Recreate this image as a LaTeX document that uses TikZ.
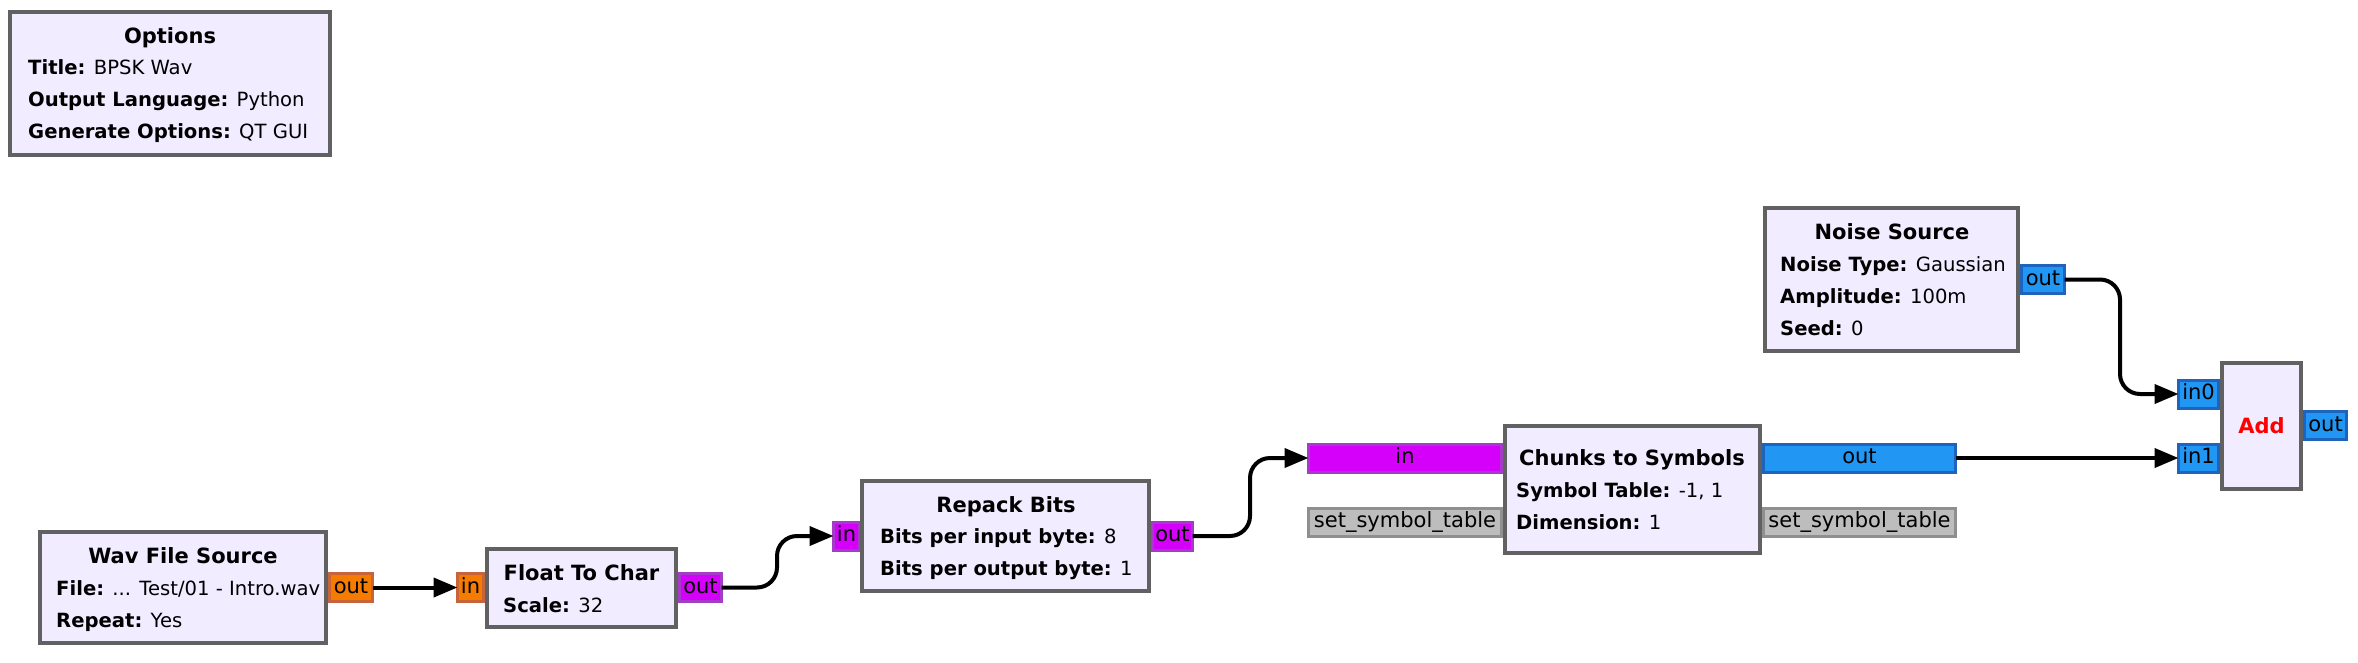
\documentclass[tikz,border=0pt]{standalone}
\usepackage{fontspec}
\setmainfont{DejaVu Sans}
\usetikzlibrary{arrows.meta}
\definecolor{blkfill}{HTML}{F1ECFF}
\definecolor{blkline}{HTML}{616161}
\definecolor{fltfill}{HTML}{F57C00}
\definecolor{fltline}{HTML}{C8643C}
\definecolor{bytfill}{HTML}{D500F9}
\definecolor{bytline}{HTML}{A43CC8}
\definecolor{cpxfill}{HTML}{2196F3}
\definecolor{cpxline}{HTML}{1E64BE}
\definecolor{msgfill}{HTML}{BDBDBD}
\definecolor{msgline}{HTML}{8F8F8F}
\definecolor{addred}{HTML}{FF0000}
\begin{document}
\begin{tikzpicture}[x=1pt,y=-1pt,
 blk/.style={draw=blkline, fill=blkfill, line width=4pt, inner sep=0pt, outer sep=0pt, anchor=north west},
 ttl/.style={font=\fontsize{21}{25}\selectfont\bfseries, inner sep=0pt, anchor=base},
 prm/.style={font=\fontsize{19.6}{23}\selectfont, inner sep=0pt, anchor=base west},
 port/.style={line width=3pt, inner sep=0pt, outer sep=0pt, minimum height=28pt, text height=15pt, text depth=4pt, font=\fontsize{21}{25}\selectfont},
 flt/.style={port, draw=fltline, fill=fltfill},
 byt/.style={port, draw=bytline, fill=bytfill},
 cpx/.style={port, draw=cpxline, fill=cpxfill},
 msg/.style={port, draw=msgline, fill=msgfill},
 conn/.style={line width=4pt, -{Triangle[length=24pt,width=19pt]}, rounded corners=20pt}
]
\fill[white] (0,0) rectangle (2358,662);
\useasboundingbox (0,0) rectangle (2358,662);

% ports
\node[flt, minimum width=43pt] (wavout) at (351,587.5) {out};
\node[flt, minimum width=26pt] (fin) at (470.5,587.5) {in};
\node[byt, minimum width=42pt] (fout) at (700.5,587.5) {out};
\node[byt, minimum width=26pt] (rin) at (846.5,536) {in};
\node[byt, minimum width=40pt] (rout) at (1172.5,536) {out};
\node[byt, minimum width=193pt] (cin) at (1405,458) {in};
\node[cpx, minimum width=192pt] (cout) at (1859.5,458) {out};
\node[msg, minimum width=193pt] (csl) at (1405,522) {set\_symbol\_table};
\node[msg, minimum width=192pt] (csr) at (1859.5,522) {set\_symbol\_table};
\node[cpx, minimum width=43pt] (nout) at (2043,279.5) {out};
\node[cpx, minimum width=40pt] (ain0) at (2198.5,394) {in0};
\node[cpx, minimum width=40pt] (ain1) at (2198.5,458) {in1};
\node[cpx, minimum width=42pt] (aout) at (2325.5,425.5) {out};

% blocks
\node[blk, minimum width=320pt, minimum height=143pt] (opt) at (10,12) {};
\node[blk, minimum width=286pt, minimum height=111pt] (wav) at (40,532) {};
\node[blk, minimum width=189pt, minimum height=78pt] (ftc) at (487,549) {};
\node[blk, minimum width=287pt, minimum height=110pt] (rep) at (862,481) {};
\node[blk, minimum width=255pt, minimum height=127pt] (cts) at (1505,426) {};
\node[blk, minimum width=253pt, minimum height=143pt] (nse) at (1765,208) {};
\node[blk, minimum width=79pt, minimum height=126pt] (add) at (2222,363) {};

% texts
\node[ttl] (optT) at (170,43) {Options};
\node[prm] (opt1) at (28,74) {\textbf{Title:} BPSK Wav};
\node[prm] (opt2) at (28,106) {\textbf{Output Language:} Python};
\node[prm] (opt3) at (28,138) {\textbf{Generate Options:} QT GUI};

\node[ttl] (wavT) at (183,563) {Wav File Source};
\node[prm] (wav1) at (56,595) {\textbf{File:} ... Test/01 - Intro.wav};
\node[prm] (wav2) at (56,627) {\textbf{Repeat:} Yes};

\node[ttl] (ftcT) at (581.5,580) {Float To Char};
\node[prm] (ftc1) at (503,612) {\textbf{Scale:} 32};

\node[ttl] (repT) at (1006,512) {Repack Bits};
\node[prm] (rep1) at (880,543) {\textbf{Bits per input byte:} 8};
\node[prm] (rep2) at (880,575) {\textbf{Bits per output byte:} 1};

\node[ttl] (ctsT) at (1632,465) {Chunks to Symbols};
\node[prm] (cts1) at (1516,497) {\textbf{Symbol Table:} -1, 1};
\node[prm] (cts2) at (1516,529) {\textbf{Dimension:} 1};

\node[ttl] (nseT) at (1892,239) {Noise Source};
\node[prm] (nse1) at (1780,271) {\textbf{Noise Type:} Gaussian};
\node[prm] (nse2) at (1780,303) {\textbf{Amplitude:} 100m};
\node[prm] (nse3) at (1780,335) {\textbf{Seed:} 0};

\node[ttl, text=addred] (addT) at (2261.5,433) {Add};

% connectors
\coordinate (m1) at (777,0);
\coordinate (m2) at (1250,0);
\coordinate (m3) at (2120,0);
\draw[conn] (wavout.east) -- (fin.west);
\draw[conn] (fout.east) -- (fout.east -| m1) -- (rin.west -| m1) -- (rin.west);
\draw[conn] (rout.east) -- (rout.east -| m2) -- (cin.west -| m2) -- (cin.west);
\draw[conn] (cout.east) -- (ain1.west);
\draw[conn] (nout.east) -- (nout.east -| m3) -- (ain0.west -| m3) -- (ain0.west);
\end{tikzpicture}
\end{document}
